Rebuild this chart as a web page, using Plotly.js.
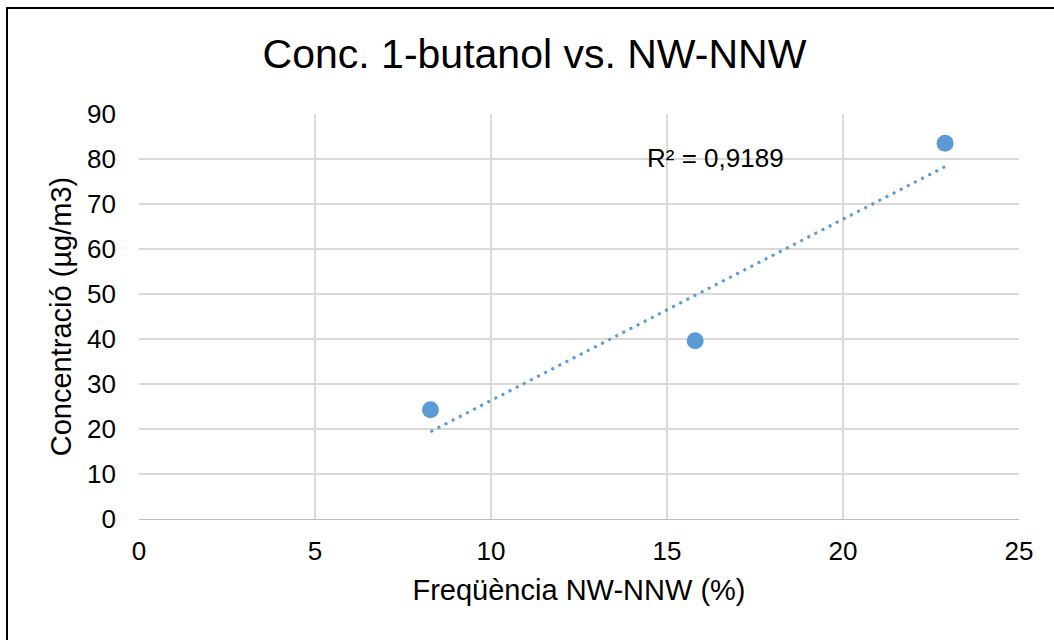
<!DOCTYPE html>
<html>
<head>
<meta charset="utf-8">
<script src="https://cdn.plot.ly/plotly-3.0.1.min.js"></script>
<style>
  html, body { margin: 0; padding: 0; background: #fff; }
  #wrap { position: relative; width: 1054px; height: 640px; overflow: hidden; }
  #chart { position: absolute; left: 0; top: 0; width: 1054px; height: 640px; }
  #frame { position: absolute; left: 6px; top: 7px; width: 1100px; height: 700px;
           border-left: 2px solid #000; border-top: 2px solid #000; pointer-events: none; }
</style>
</head>
<body>
<div id="wrap">
  <div id="chart"></div>
  <div id="frame"></div>
</div>
<script>
// ---- data ----
const freqNW = [8.28, 15.8, 22.9];        // Freqüència NW-NNW (%)
const conc = [24.3, 39.6, 83.5];          // Concentració (µg/m3)
const xTicks = [0, 5, 10, 15, 20, 25];
const yTicks = [0, 10, 20, 30, 40, 50, 60, 70, 80, 90];
const chartTitle = 'Conc. 1-butanol vs. NW-NNW';
const xTitle = 'Freqüència NW-NNW (%)';
const yTitle = 'Concentració (µg/m3)';
const r2Label = 'R² = 0,9189';

// linear least-squares trendline from the data
const n = freqNW.length;
const mx = freqNW.reduce((a, b) => a + b, 0) / n;
const my = conc.reduce((a, b) => a + b, 0) / n;
let sxy = 0, sxx = 0;
for (let i = 0; i < n; i++) { sxy += (freqNW[i] - mx) * (conc[i] - my); sxx += (freqNW[i] - mx) ** 2; }
const slope = sxy / sxx, icpt = my - slope * mx;
const xmin = Math.min(...freqNW), xmax = Math.max(...freqNW);
const trendX = [xmin, xmax];
const trendY = trendX.map(v => icpt + slope * v);

const blue = '#5b9bd5';
const font = 'Liberation Sans, Arial, sans-serif';

const traces = [
  { x: trendX, y: trendY, mode: 'lines', type: 'scatter',
    line: { color: blue, width: 3, dash: '3px,5px' }, hoverinfo: 'skip', showlegend: false },
  { x: freqNW, y: conc, mode: 'markers', type: 'scatter',
    marker: { color: blue, size: 17 }, showlegend: false }
];

const layout = {
  width: 1054, height: 640,
  margin: { l: 139, r: 35, t: 114, b: 121, pad: 0 },
  paper_bgcolor: '#fff', plot_bgcolor: '#fff',
  font: { family: font, color: '#000' },
  showlegend: false,
  title: { text: chartTitle, font: { family: font, size: 41, color: '#000' },
           xref: 'container', x: 0.5071, xanchor: 'center',
           yref: 'container', y: 0.9156, yanchor: 'middle' },
  xaxis: {
    range: [0, 25], tickvals: xTicks, ticktext: xTicks.map(String),
    showgrid: true, gridcolor: '#d9d9d9', gridwidth: 1.3,
    zeroline: false, showline: true, linecolor: '#bfbfbf', linewidth: 1.3,
    ticks: '', ticklabelstandoff: 8,
    tickfont: { family: font, size: 26, color: '#000' },
    automargin: false,
    title: { text: xTitle, font: { family: font, size: 29, color: '#000' }, standoff: 15 }
  },
  yaxis: {
    range: [0, 90], tickvals: yTicks, ticktext: yTicks.map(String),
    showgrid: true, gridcolor: '#d9d9d9', gridwidth: 1.3,
    zeroline: false, showline: false,
    ticks: '', ticklabelstandoff: 22,
    tickfont: { family: font, size: 26, color: '#000' },
    automargin: false,
    title: { text: yTitle, font: { family: font, size: 29, color: '#000' }, standoff: 6 }
  },
  annotations: [
    { text: r2Label, xref: 'x', yref: 'y', x: 16.38, y: 80.2,
      showarrow: false, xanchor: 'center', yanchor: 'middle',
      font: { family: font, size: 26, color: '#000' } }
  ]
};

Plotly.newPlot('chart', traces, layout, { displayModeBar: false, staticPlot: true });
</script>
</body>
</html>
